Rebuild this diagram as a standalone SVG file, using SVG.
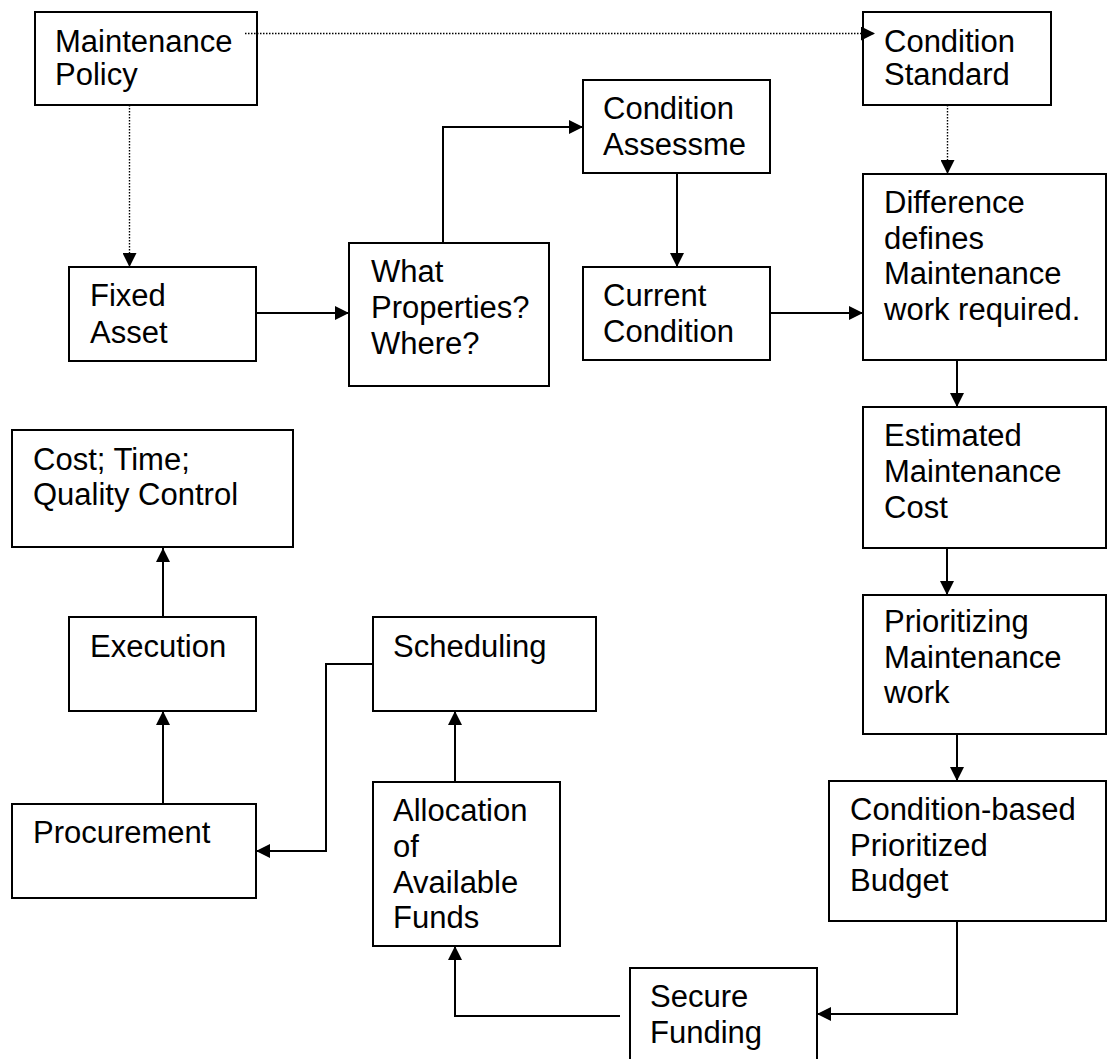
<svg xmlns="http://www.w3.org/2000/svg" width="1107" height="1059" viewBox="0 0 1107 1059">
<style>
.box{fill:#fff;stroke:#000;stroke-width:2}
.t{font-family:"Liberation Sans",Arial,sans-serif;font-size:31px;fill:#000}
.c{fill:none;stroke:#000;stroke-width:2}
.d{fill:none;stroke:#000;stroke-width:1.4;stroke-dasharray:1.5 1.5}
</style>
<defs>
<marker id="ah" markerUnits="userSpaceOnUse" markerWidth="14" markerHeight="14" refX="14" refY="7" orient="auto">
<path d="M0,0 L14,7 L0,14 z" fill="#000"/>
</marker>
</defs>
<rect width="1107" height="1059" fill="#fff"/>
<g id="maintenance-policy"><rect class="box" x="35" y="12" width="222" height="93"/><text class="t" x="55" y="52">Maintenance</text><text class="t" x="55" y="85">Policy</text></g>
<g id="condition-standard"><rect class="box" x="863" y="12" width="188" height="93"/><text class="t" x="884" y="52">Condition</text><text class="t" x="884" y="85">Standard</text></g>
<g id="fixed-asset"><rect class="box" x="69" y="267" width="187" height="94"/><text class="t" x="90" y="306">Fixed</text><text class="t" x="90" y="343">Asset</text></g>
<g id="what-properties"><rect class="box" x="349" y="243" width="200" height="143"/><text class="t" x="371" y="282">What</text><text class="t" x="371" y="318">Properties?</text><text class="t" x="371" y="354">Where?</text></g>
<g id="condition-assessment"><rect class="box" x="583" y="80" width="187" height="93"/><text class="t" x="603" y="119">Condition</text><text class="t" x="603" y="155">Assessme</text></g>
<g id="current-condition"><rect class="box" x="583" y="267" width="187" height="93"/><text class="t" x="603" y="306">Current</text><text class="t" x="603" y="342">Condition</text></g>
<g id="difference"><rect class="box" x="863" y="174" width="243" height="186"/><text class="t" x="884" y="213">Difference</text><text class="t" x="884" y="249">defines</text><text class="t" x="884" y="284">Maintenance</text><text class="t" x="884" y="320">work required.</text></g>
<g id="estimated-cost"><rect class="box" x="863" y="407" width="243" height="141"/><text class="t" x="884" y="446">Estimated</text><text class="t" x="884" y="482">Maintenance</text><text class="t" x="884" y="518">Cost</text></g>
<g id="prioritizing"><rect class="box" x="863" y="595" width="243" height="139"/><text class="t" x="884" y="632">Prioritizing</text><text class="t" x="884" y="668">Maintenance</text><text class="t" x="884" y="703">work</text></g>
<g id="budget"><rect class="box" x="829" y="781" width="277" height="140"/><text class="t" x="850" y="820">Condition-based</text><text class="t" x="850" y="856">Prioritized</text><text class="t" x="850" y="891">Budget</text></g>
<g id="secure-funding"><rect class="box" x="630" y="968" width="187" height="110"/><text class="t" x="650" y="1007">Secure</text><text class="t" x="650" y="1043">Funding</text></g>
<g id="allocation"><rect class="box" x="373" y="782" width="187" height="164"/><text class="t" x="393" y="821">Allocation</text><text class="t" x="393" y="857">of</text><text class="t" x="393" y="893">Available</text><text class="t" x="393" y="928">Funds</text></g>
<g id="scheduling"><rect class="box" x="373" y="617" width="223" height="94"/><text class="t" x="393" y="657">Scheduling</text></g>
<g id="execution"><rect class="box" x="69" y="617" width="187" height="94"/><text class="t" x="90" y="657">Execution</text></g>
<g id="procurement"><rect class="box" x="12" y="804" width="244" height="94"/><text class="t" x="33" y="843">Procurement</text></g>
<g id="quality-control"><rect class="box" x="12" y="430" width="281" height="117"/><text class="t" x="33" y="470">Cost; Time;</text><text class="t" x="33" y="505">Quality Control</text></g>
<g id="connectors">
<path class="d" d="M245,33.5 H875" marker-end="url(#ah)"/>
<path class="d" d="M129.5,105 V267" marker-end="url(#ah)"/>
<path class="d" d="M947.5,105 V174" marker-end="url(#ah)"/>
<path class="c" d="M256,313 H349" marker-end="url(#ah)"/>
<path class="c" d="M443,243 V127 H583" marker-end="url(#ah)"/>
<path class="c" d="M677,173 V267" marker-end="url(#ah)"/>
<path class="c" d="M770,313 H863" marker-end="url(#ah)"/>
<path class="c" d="M957,360 V407" marker-end="url(#ah)"/>
<path class="c" d="M947,548 V595" marker-end="url(#ah)"/>
<path class="c" d="M957,734 V781" marker-end="url(#ah)"/>
<path class="c" d="M957,921 V1014 H817" marker-end="url(#ah)"/>
<path class="c" d="M620,1016 H455 V946" marker-end="url(#ah)"/>
<path class="c" d="M455,782 V711" marker-end="url(#ah)"/>
<path class="c" d="M373,664 H326 V851 H256" marker-end="url(#ah)"/>
<path class="c" d="M163,804 V711" marker-end="url(#ah)"/>
<path class="c" d="M163,617 V548" marker-end="url(#ah)"/>
</g>
</svg>
